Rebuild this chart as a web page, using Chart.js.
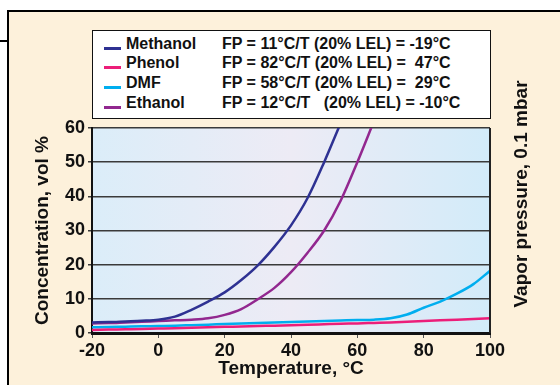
<!DOCTYPE html>
<html>
<head>
<meta charset="utf-8">
<script src="https://cdn.jsdelivr.net/npm/chart.js@4"></script>
<style>
body { margin: 0; background: #fff; }
#wrap { position: relative; width: 560px; height: 385px; overflow: hidden; font-family: "Liberation Sans", Arial, sans-serif; }
#frame { position: absolute; left: 7px; top: 10px; width: 600px; height: 400px; border-left: 2px solid #000; border-top: 2px solid #000; background: #fdf1db; }
#tab { position: absolute; left: 0; top: 40px; width: 8px; height: 2px; background: #000; }
#chart { position: absolute; left: 0; top: 0; }
#legend { position: absolute; left: 92px; top: 30px; width: 399px; height: 89px; box-sizing: border-box; border: 1.5px solid #111; background: #fff; }
.row { position: absolute; left: 0; width: 390px; height: 20px; font-weight: bold; font-size: 16px; line-height: 20px; white-space: pre; color: #111; }
.swatch { position: absolute; left: 11px; top: 13px; width: 17px; height: 3px; }
.name { position: absolute; left: 33px; }
.fp { position: absolute; left: 129px; }
</style>
</head>
<body>
<div id="wrap">
  <div id="frame"></div>
  <div id="tab"></div>
  <canvas id="chart" width="560" height="385"></canvas>
  <div id="legend"></div>
</div>
<script>
// temperature, °C
var temps = [-20, -15, -10, -5, 0, 5, 10, 15, 20, 25, 30, 35, 40, 45, 50, 55, 60, 65, 70, 75, 80, 85, 90, 95, 100];

// concentration, vol % (null = off the top of the chart)
var methanol = [3.1, 3.2, 3.4, 3.6, 3.9, 4.8, 6.8, 9.2, 11.9, 15.5, 19.8, 25.2, 31.5, 39.5, 50, 61.5, null, null, null, null, null, null, null, null, null];
var phenol = [0.9, 1.0, 1.1, 1.2, 1.3, 1.4, 1.55, 1.65, 1.8, 1.9, 2.05, 2.15, 2.3, 2.4, 2.55, 2.7, 2.8, 2.95, 3.1, 3.3, 3.5, 3.7, 3.9, 4.1, 4.3];
var dmf = [1.7, 1.75, 1.85, 1.95, 2.05, 2.15, 2.3, 2.45, 2.6, 2.75, 2.9, 3.05, 3.2, 3.35, 3.5, 3.65, 3.8, 3.9, 4.3, 5.4, 7.4, 9.2, 11.5, 14.3, 18.2];
var ethanol = [2.8, 2.9, 3.1, 3.3, 3.5, 3.7, 3.9, 4.3, 5.3, 7.0, 9.9, 13.2, 17.8, 23.5, 30, 38.8, 50, 62, null, null, null, null, null, null, null];

var seriesNames = ['Methanol', 'Phenol', 'DMF', 'Ethanol'];
var seriesColors = ['#2e3192', '#ec1e79', '#00aeef', '#92278f'];
var fpLabels = [
  'FP = 11°C/T (20% LEL) = -19°C',
  'FP = 82°C/T (20% LEL) =  47°C',
  'FP = 58°C/T (20% LEL) =  29°C',
  'FP = 12°C/T   (20% LEL) = -10°C'
];

var xTicks = [-20, 0, 20, 40, 60, 80, 100];
var yTicks = [0, 10, 20, 30, 40, 50, 60];

var FONT = '"Liberation Sans", Arial, sans-serif';

function points(vals) {
  return temps.map(function (t, i) { return { x: t, y: vals[i] }; });
}

// legend box
var legend = document.getElementById('legend');
seriesNames.forEach(function (name, i) {
  var row = document.createElement('div');
  row.className = 'row';
  row.style.top = (2.5 + i * 19.7) + 'px';
  row.innerHTML = '<span class="swatch" style="background:' + seriesColors[i] + '"></span>' +
    '<span class="name">' + name + '</span><span class="fp">' + fpLabels[i] + '</span>';
  legend.appendChild(row);
});

var decor = {
  id: 'decor',
  beforeDraw: function (chart) {
    var a = chart.chartArea, ctx = chart.ctx;
    var g = ctx.createLinearGradient(a.left, 0, a.right, 0);
    g.addColorStop(0, '#dbedf9');
    g.addColorStop(0.5, '#edebf5');
    g.addColorStop(1, '#d2ebf9');
    ctx.save();
    ctx.fillStyle = g;
    ctx.fillRect(a.left, a.top, a.right - a.left, a.bottom - a.top);
    ctx.restore();
  },
  afterDraw: function (chart) {
    var a = chart.chartArea, ctx = chart.ctx;
    ctx.save();
    ctx.strokeStyle = '#222';
    ctx.lineWidth = 2;
    ctx.beginPath();
    ctx.moveTo(a.right, a.top);
    ctx.lineTo(a.right, a.bottom);
    ctx.stroke();
    // right-hand axis title
    ctx.translate(522, 194);
    ctx.rotate(-Math.PI / 2);
    ctx.fillStyle = '#111';
    ctx.font = 'bold 19px ' + FONT;
    ctx.textAlign = 'center';
    ctx.textBaseline = 'middle';
    ctx.fillText('Vapor pressure, 0.1 mbar', 0, 0);
    ctx.restore();
  }
};

var allSeries = [methanol, phenol, dmf, ethanol];

new Chart(document.getElementById('chart'), {
  type: 'line',
  data: {
    datasets: allSeries.map(function (vals, i) {
      return {
        label: seriesNames[i],
        data: points(vals),
        borderColor: seriesColors[i],
        backgroundColor: seriesColors[i],
        borderWidth: 2.5,
        pointRadius: 0,
        cubicInterpolationMode: 'monotone'
      };
    })
  },
  options: {
    responsive: false,
    animation: false,
    layout: { padding: { left: 28, top: 128, right: 70, bottom: 0 } },
    plugins: { legend: { display: false }, tooltip: { enabled: false } },
    scales: {
      x: {
        type: 'linear',
        min: -20,
        max: 100,
        afterFit: function (scale) { scale.height = 52; },
        afterBuildTicks: function (scale) { scale.ticks = xTicks.map(function (v) { return { value: v }; }); },
        grid: { drawOnChartArea: false, drawTicks: true, tickLength: 5, color: '#555' },
        border: { color: '#111', width: 3 },
        ticks: { color: '#111', padding: 2, font: { family: FONT, size: 18, weight: 'bold' } },
        title: { display: true, text: 'Temperature, °C', color: '#111', padding: { top: 0, bottom: 5 }, font: { family: FONT, size: 19, weight: 'bold' } }
      },
      y: {
        min: 0,
        max: 60,
        afterFit: function (scale) { scale.width = 64; },
        afterBuildTicks: function (scale) { scale.ticks = yTicks.map(function (v) { return { value: v }; }); },
        grid: { color: '#3a3a3a', lineWidth: 1.5, tickLength: 4 },
        border: { color: '#111', width: 2 },
        ticks: { color: '#111', padding: 3, font: { family: FONT, size: 18, weight: 'bold' } },
        title: { display: true, text: 'Concentration, vol %', color: '#111', padding: { top: 3, bottom: 0 }, font: { family: FONT, size: 19, weight: 'bold' } }
      }
    }
  },
  plugins: [decor]
});
</script>
</body>
</html>
